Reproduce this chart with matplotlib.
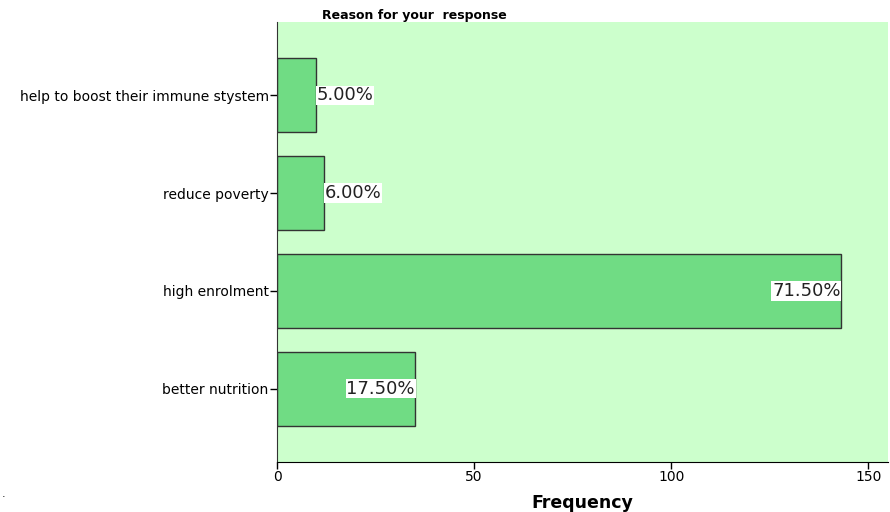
import matplotlib.pyplot as plt

# Frequency chart: reasons given for the response (n = 200)
categories = ['better nutrition', 'high enrolment', 'reduce poverty',
              'help to boost their immune stystem']
frequency = [35, 143, 12, 10]
percent = [17.5, 71.5, 6.0, 5.0]
xticks = [0, 50, 100, 150]

fig = plt.figure(figsize=(8.9, 5.12), dpi=100)
ax = fig.add_axes([277 / 890, 1 - 462 / 512, 611 / 890, 440 / 512])
ax.set_facecolor('#CCFFCC')

ypos = list(range(len(categories)))
ax.barh(ypos, frequency, height=0.76, color='#70DC84', edgecolor='#333333',
        linewidth=1.0, zorder=2)

# percentage labels: inside the bar end when it is long enough, otherwise just outside
for y, f, p in zip(ypos, frequency, percent):
    inside = f > 20
    ax.text(f, y, f'{p:.2f}%', ha='right' if inside else 'left', va='center',
            fontsize=13, color='#222222', zorder=3,
            bbox=dict(facecolor='white', edgecolor='none', pad=0.5))

ax.set_xlim(0, 155)
ax.set_ylim(-0.75, 3.75)
ax.set_yticks(ypos)
ax.set_yticklabels(categories, fontsize=10)
ax.set_xticks(xticks)
ax.set_xticklabels([str(t) for t in xticks], fontsize=10)
ax.tick_params(axis='both', direction='out', length=5, width=1, pad=1, color='black')

ax.spines['top'].set_visible(False)
ax.spines['right'].set_visible(False)
ax.spines['left'].set_color('#333333')
ax.spines['bottom'].set_color('black')

ax.set_xlabel('Frequency', fontsize=12.5, fontweight='bold', labelpad=7)
fig.text(414 / 890, 1 - 15 / 512, 'Reason for your  response', ha='center',
         va='center', fontsize=9, fontweight='bold')
fig.text(2 / 890, 1 - 494 / 512, '.', fontsize=8, va='center')

fig.savefig('out.png', dpi=100)
